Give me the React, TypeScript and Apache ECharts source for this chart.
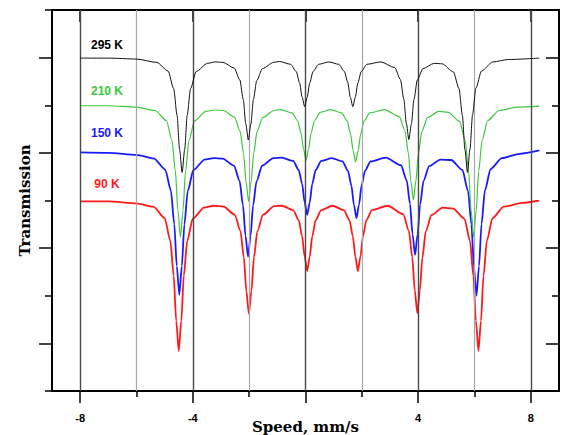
import React, { useEffect, useRef } from "react";
import * as echarts from "echarts";

// Velocity axis (mm/s)
const gridValues = [-8, -6, -4, -2, 0, 2, 4, 6, 8];
const majorTicks = [-8, -4, 0, 4, 8];
const minorTicks = [-6, -2, 2, 6];
const tickLabels = [-8, -4, 4, 8];

const temps = ["295 K", "210 K", "150 K", "90 K"];

// [speed, transmission (offset)]
const black295 = [
  [-8.0, 6.99], [-7.0, 6.99], [-6.0, 6.97], [-5.28, 6.9], [-4.88, 6.72], [-4.68, 6.35], [-4.56, 5.79], [-4.47, 5.07], [-4.38, 4.59], [-4.29, 5.07], [-4.2, 5.79], [-4.08, 6.35], [-3.88, 6.71], [-3.48, 6.88], [-3.2, 6.91],
  [-2.93, 6.9], [-2.53, 6.78], [-2.33, 6.53], [-2.21, 6.12], [-2.12, 5.61], [-2.03, 5.27], [-1.94, 5.6], [-1.85, 6.12], [-1.73, 6.52], [-1.53, 6.77], [-1.13, 6.9],
  [-0.93, 6.92], [-0.53, 6.86], [-0.33, 6.71], [-0.21, 6.47], [-0.12, 6.17], [-0.03, 5.97], [0.06, 6.17], [0.15, 6.47], [0.27, 6.71], [0.47, 6.86], [0.825, 6.91],
  [1.18, 6.86], [1.38, 6.71], [1.5, 6.48], [1.59, 6.17], [1.68, 5.97], [1.77, 6.17], [1.86, 6.47], [1.98, 6.71], [2.18, 6.86], [2.675, 6.91],
  [3.17, 6.79], [3.37, 6.54], [3.49, 6.13], [3.58, 5.62], [3.67, 5.28], [3.76, 5.61], [3.85, 6.12], [3.97, 6.53], [4.17, 6.77], [4.57, 6.88],
  [4.85, 6.87], [5.25, 6.7], [5.45, 6.35], [5.57, 5.79], [5.66, 5.07], [5.75, 4.59], [5.84, 5.08], [5.93, 5.8], [6.05, 6.36], [6.25, 6.72], [6.65, 6.91], [7.2, 6.96], [8.3, 6.99],
];

const green210 = [
  [-8.0, 5.99], [-7.0, 5.99], [-6.0, 5.96], [-5.34, 5.89], [-4.94, 5.68], [-4.74, 5.26], [-4.62, 4.62], [-4.53, 3.79], [-4.44, 3.23], [-4.35, 3.79], [-4.26, 4.61], [-4.14, 5.25], [-3.94, 5.67], [-3.54, 5.87], [-3.23, 5.9],
  [-2.92, 5.89], [-2.52, 5.75], [-2.32, 5.45], [-2.2, 4.99], [-2.11, 4.39], [-2.02, 3.98], [-1.93, 4.39], [-1.84, 4.99], [-1.72, 5.45], [-1.52, 5.74], [-1.12, 5.89],
  [-0.88, 5.91], [-0.48, 5.84], [-0.28, 5.68], [-0.16, 5.42], [-0.07, 5.08], [0.02, 4.84], [0.11, 5.08], [0.2, 5.42], [0.32, 5.68], [0.52, 5.85], [0.9, 5.91],
  [1.28, 5.84], [1.48, 5.67], [1.6, 5.4], [1.69, 5.05], [1.78, 4.81], [1.87, 5.05], [1.96, 5.4], [2.08, 5.67], [2.28, 5.84], [2.805, 5.91],
  [3.33, 5.76], [3.53, 5.47], [3.65, 5.0], [3.74, 4.41], [3.83, 4.01], [3.92, 4.41], [4.01, 4.99], [4.13, 5.45], [4.33, 5.74], [4.73, 5.87],
  [5.07, 5.85], [5.47, 5.66], [5.67, 5.26], [5.79, 4.62], [5.88, 3.79], [5.97, 3.23], [6.06, 3.79], [6.15, 4.62], [6.27, 5.27], [6.47, 5.68], [6.87, 5.89], [7.5, 5.96], [8.3, 5.98],
];

const blue150 = [
  [-8.0, 5.01], [-7.0, 5.0], [-6.0, 4.96], [-5.38, 4.88], [-4.98, 4.65], [-4.78, 4.21], [-4.66, 3.51], [-4.57, 2.62], [-4.48, 2.02], [-4.39, 2.62], [-4.3, 3.5], [-4.18, 4.2], [-3.98, 4.64], [-3.58, 4.86], [-3.26, 4.89],
  [-2.94, 4.88], [-2.54, 4.73], [-2.34, 4.41], [-2.22, 3.9], [-2.13, 3.26], [-2.04, 2.82], [-1.95, 3.26], [-1.86, 3.9], [-1.74, 4.4], [-1.54, 4.73], [-1.14, 4.89],
  [-0.84, 4.9], [-0.44, 4.83], [-0.24, 4.64], [-0.12, 4.35], [-0.03, 3.96], [0.06, 3.7], [0.15, 3.96], [0.24, 4.35], [0.36, 4.64], [0.56, 4.83], [0.935, 4.89],
  [1.31, 4.82], [1.51, 4.62], [1.63, 4.31], [1.72, 3.91], [1.81, 3.63], [1.9, 3.91], [1.99, 4.31], [2.11, 4.62], [2.31, 4.82], [2.85, 4.9],
  [3.39, 4.74], [3.59, 4.43], [3.71, 3.93], [3.8, 3.29], [3.89, 2.86], [3.98, 3.29], [4.07, 3.92], [4.19, 4.41], [4.39, 4.72], [4.79, 4.86],
  [5.17, 4.85], [5.57, 4.64], [5.77, 4.2], [5.89, 3.5], [5.98, 2.61], [6.07, 2.0], [6.16, 2.62], [6.25, 3.51], [6.37, 4.21], [6.57, 4.66], [6.97, 4.89], [7.6, 4.98], [8.3, 5.05],
];

const red90 = [
  [-8.0, 3.98], [-7.0, 3.98], [-6.0, 3.94], [-5.4, 3.87], [-5.0, 3.63], [-4.8, 3.16], [-4.68, 2.42], [-4.59, 1.47], [-4.5, 0.84], [-4.41, 1.47], [-4.32, 2.42], [-4.2, 3.15], [-4.0, 3.62], [-3.6, 3.85], [-3.255, 3.89],
  [-2.91, 3.87], [-2.51, 3.7], [-2.31, 3.36], [-2.19, 2.81], [-2.1, 2.1], [-2.01, 1.62], [-1.92, 2.1], [-1.83, 2.81], [-1.71, 3.35], [-1.51, 3.7], [-1.11, 3.88],
  [-0.84, 3.89], [-0.44, 3.8], [-0.24, 3.59], [-0.12, 3.25], [-0.03, 2.82], [0.06, 2.52], [0.15, 2.82], [0.24, 3.25], [0.36, 3.59], [0.56, 3.8], [0.96, 3.89],
  [1.36, 3.8], [1.56, 3.59], [1.68, 3.25], [1.77, 2.82], [1.86, 2.52], [1.95, 2.82], [2.04, 3.25], [2.16, 3.59], [2.36, 3.8], [2.915, 3.89],
  [3.47, 3.71], [3.67, 3.36], [3.79, 2.81], [3.88, 2.11], [3.97, 1.63], [4.06, 2.11], [4.15, 2.8], [4.27, 3.35], [4.47, 3.69], [4.87, 3.85],
  [5.24, 3.83], [5.64, 3.62], [5.84, 3.15], [5.96, 2.42], [6.05, 1.47], [6.14, 0.84], [6.23, 1.47], [6.32, 2.42], [6.44, 3.16], [6.64, 3.63], [7.04, 3.87], [7.7, 3.95], [8.3, 4.0],
];

export default function App() {
  const ref = useRef<HTMLDivElement>(null);

  useEffect(() => {
    if (!ref.current) return;
    const chart = echarts.init(ref.current, null, { renderer: "svg" });
    const axisLineStyle = { color: "#000", width: 2 };
    const serifBold = { fontFamily: "DejaVu Serif", fontWeight: "bold" as const, fontSize: 15, color: "#000" };
    const sansBold = "Liberation Sans";

    const lineSeries = (name: string, data: number[][], color: string, width: number, z: number) => ({
      name,
      type: "line",
      data,
      xAxisIndex: 0,
      yAxisIndex: 0,
      showSymbol: false,
      symbol: "none",
      smooth: 0.25,
      smoothMonotone: "x",
      z,
      lineStyle: { color, width },
      itemStyle: { color },
    });

    chart.setOption({
      animation: false,
      backgroundColor: "#fff",
      grid: { left: 52, right: 3, top: 10, bottom: 44, containLabel: false, outerBoundsMode: "none" },
      xAxis: [
        {
          type: "value",
          position: "bottom",
          min: -9,
          max: 9,
          name: "Speed, mm/s",
          nameLocation: "middle",
          nameGap: 28,
          nameMoveOverlap: false,
          nameTextStyle: serifBold,
          axisLine: { show: true, onZero: false, lineStyle: axisLineStyle },
          axisTick: { show: true, customValues: majorTicks, length: 12, lineStyle: { color: "#000", width: 1.5 } },
          axisLabel: {
            show: true,
            customValues: tickLabels,
            margin: 21,
            fontFamily: sansBold,
            fontWeight: "bold",
            fontSize: 11,
            color: "#000",
          },
          splitLine: { show: false },
        },
        {
          type: "value",
          position: "bottom",
          offset: 0,
          min: -9,
          max: 9,
          axisLine: { show: false, onZero: false },
          axisTick: { show: true, customValues: minorTicks, length: 6, lineStyle: { color: "#000", width: 1.5 } },
          axisLabel: { show: false },
          splitLine: { show: false },
        },
        {
          type: "value",
          position: "top",
          min: -9,
          max: 9,
          axisLine: { show: true, onZero: false, lineStyle: axisLineStyle },
          axisTick: { show: true, inside: true, customValues: majorTicks, length: 12, lineStyle: { color: "#000", width: 1.5 } },
          axisLabel: { show: false },
          splitLine: { show: false },
        },
      ],
      yAxis: [
        {
          type: "value",
          position: "left",
          min: 0,
          max: 8,
          interval: 2,
          name: "Transmission",
          nameLocation: "middle",
          nameGap: 20,
          nameRotate: 90,
          nameMoveOverlap: false,
          nameTextStyle: serifBold,
          axisLine: { show: true, onZero: false, lineStyle: axisLineStyle },
          axisTick: { show: true, length: 7, lineStyle: { color: "#000", width: 1.5 } },
          minorTick: { show: true, splitNumber: 2, length: 13, lineStyle: { color: "#000", width: 1.5 } },
          axisLabel: { show: false },
          splitLine: { show: false },
        },
        {
          type: "value",
          position: "right",
          min: 0,
          max: 8,
          interval: 2,
          axisLine: { show: true, onZero: false, lineStyle: axisLineStyle },
          axisTick: { show: true, inside: true, length: 7, lineStyle: { color: "#000", width: 1.5 } },
          minorTick: { show: true, splitNumber: 2, length: 13, lineStyle: { color: "#000", width: 1.5 } },
          axisLabel: { show: false },
          splitLine: { show: false },
        },
      ],
      series: [
        {
          name: "grid",
          type: "line",
          data: [],
          xAxisIndex: 0,
          yAxisIndex: 0,
          z: 1,
          silent: true,
          markLine: {
            silent: true,
            symbol: ["none", "none"],
            label: { show: false },
            data: gridValues.map((v) => ({
              xAxis: v,
              lineStyle: {
                color: v % 4 === 0 ? "#4a4a4a" : "#a8a8a8",
                width: v % 4 === 0 ? 1.4 : 1.2,
                type: "solid",
              },
            })),
          },
        },
        lineSeries(temps[3], red90, "#ff1a1a", 1.8, 2),
        lineSeries(temps[2], blue150, "#1a1aff", 1.8, 3),
        lineSeries(temps[1], green210, "#3cc83c", 1.2, 4),
        lineSeries(temps[0], black295, "#111111", 1.0, 5),
      ],
      graphic: [
        { type: "text", x: 107, y: 45, style: { text: temps[0], fill: "#000", font: `bold 12px "${sansBold}"`, textAlign: "center", textVerticalAlign: "middle" } },
        { type: "text", x: 107, y: 91, style: { text: temps[1], fill: "#3cc83c", font: `bold 12px "${sansBold}"`, textAlign: "center", textVerticalAlign: "middle" } },
        { type: "text", x: 107, y: 133, style: { text: temps[2], fill: "#1a1aff", font: `bold 12px "${sansBold}"`, textAlign: "center", textVerticalAlign: "middle" } },
        { type: "text", x: 107, y: 184, style: { text: temps[3], fill: "#ff1a1a", font: `bold 12px "${sansBold}"`, textAlign: "center", textVerticalAlign: "middle" } },
      ],
    });

    return () => chart.dispose();
  }, []);

  return <div ref={ref} style={{ position: "fixed", left: 0, top: 0, width: 562, height: 435, background: "#fff" }} />;
}
